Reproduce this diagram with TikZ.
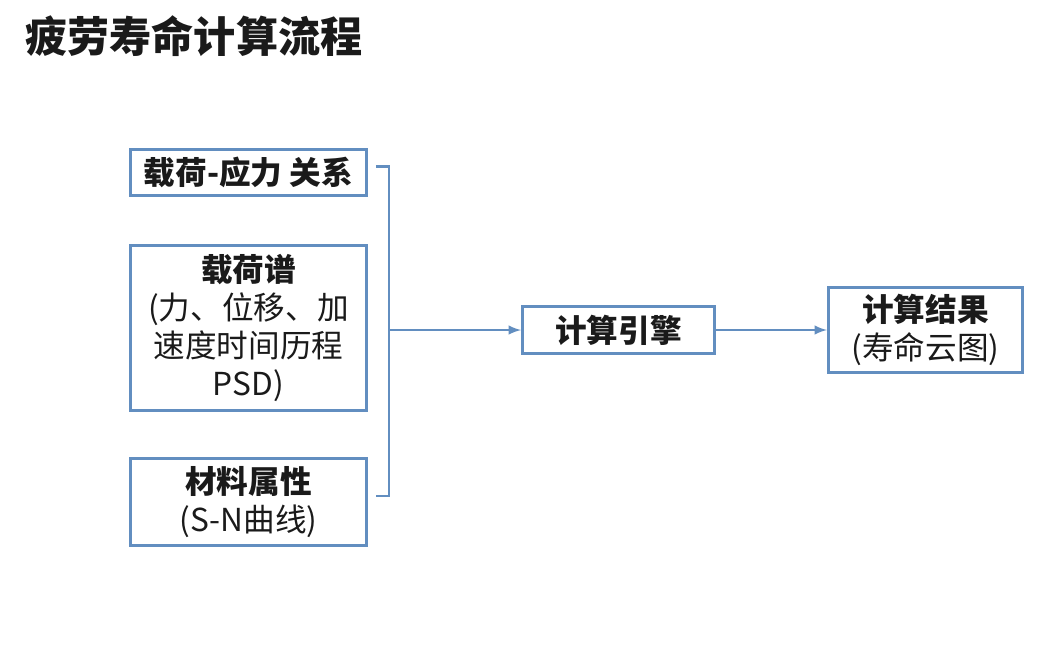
\documentclass[tikz,border=0pt]{standalone}
\usepackage{fontspec}
\setmainfont{Noto Sans CJK SC}
\usepackage{tikz}
\usetikzlibrary{positioning, calc}
\definecolor{boxblue}{RGB}{98,142,192}
\definecolor{inktext}{RGB}{26,26,26}

\begin{document}
\begin{tikzpicture}[
            x=0.02cm, y=-0.02cm,
            node distance=0.94cm and 2.22cm,
            flowbox/.style = {align=center, inner sep=2pt, text centered, text=inktext,
                    font=\fontsize{18}{21.6}\selectfont, rectangle, draw=boxblue, line width=1.7pt, fill=white, minimum width=4.72cm},
            link/.style = {draw=boxblue, line width=1.4pt}
        ]
        \useasboundingbox (0,0) rectangle (1047,654);
        \node (title) [anchor=west, text=inktext, font=\fontsize{24}{28}\selectfont\bfseries] at (19,36) {疲劳寿命计算流程};

        \node (load)   [flowbox, anchor=north west, minimum height=0.92cm] at (129,148) {\textbf{载荷-应力 关系}};
        \node (spec)   [flowbox, below=of load, minimum height=3.3cm] {\textbf{载荷谱}\\(力、位移、加\\速度时间历程\\PSD)};
        \node (mat)    [flowbox, below=0.9cm of spec, minimum height=1.74cm] {\textbf{材料属性}\\(S-N曲线)};
        \node (engine) [flowbox, anchor=west, minimum width=3.84cm, minimum height=0.94cm] at (521,330) {\textbf{计算引擎}};
        \node (result) [flowbox, right=of engine, minimum width=3.88cm, minimum height=1.7cm] {\textbf{计算结果}\\(寿命云图)};

        \coordinate (join) at (389,330);
        \draw[link] ([shift={(8,-6)}]load.east) -| (join) |- ([shift={(8,-6)}]mat.east);
        \draw[link, -latex] (join) -- (engine.west);
        \draw[link, -latex] (engine.east) -- (result.west);
    \end{tikzpicture}
\end{document}
